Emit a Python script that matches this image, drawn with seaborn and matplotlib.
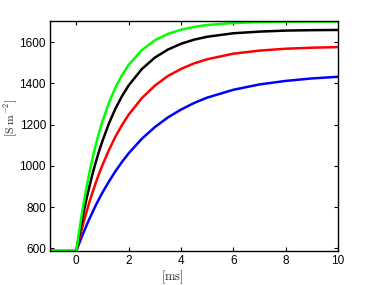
import matplotlib
matplotlib.use("Agg")
import matplotlib.pyplot as plt
import seaborn as sns
import pandas as pd

# time axis [ms] and conductance traces [S m^-2]
t = [-1, 0, 0.1, 0.2, 0.3, 0.4, 0.5, 0.6, 0.7, 0.8, 0.9, 1.0, 1.25, 1.5, 1.75, 2,
     2.5, 3, 3.5, 4, 4.5, 5, 6, 7, 8, 9, 10]
blue = [587, 587, 621, 653, 684, 714, 743, 770, 797, 823, 847, 871, 925, 975, 1020, 1061,
        1131, 1188, 1235, 1273, 1305, 1331, 1369, 1395, 1412, 1424, 1432]
red = [587, 587, 640, 689, 737, 781, 824, 864, 902, 938, 972, 1004, 1078, 1143, 1199, 1248,
       1328, 1389, 1436, 1470, 1497, 1517, 1544, 1559, 1568, 1573, 1576]
black = [587, 587, 659, 725, 788, 846, 900, 951, 998, 1042, 1083, 1121, 1207, 1279, 1339, 1390,
         1469, 1525, 1564, 1592, 1612, 1626, 1643, 1651, 1656, 1658, 1659]
green = [587, 587, 676, 758, 833, 902, 967, 1025, 1079, 1129, 1174, 1216, 1307, 1381, 1441, 1490,
         1561, 1609, 1640, 1660, 1674, 1683, 1693, 1697, 1699, 1700, 1700]

series = {"blue": blue, "red": red, "black": black, "green": green}
colors = {"blue": "#0000ff", "red": "#ff0000", "black": "#000000", "green": "#00ff00"}

df = pd.concat([pd.DataFrame({"t": t, "g": v, "trace": k}) for k, v in series.items()])

sns.set_style("ticks")
plt.rcParams["font.family"] = ["Liberation Sans", "DejaVu Sans"]
plt.rcParams["mathtext.fontset"] = "cm"

fig = plt.figure(figsize=(3.74, 2.85), dpi=100)
ax = fig.add_axes([0.134, 0.119, 0.770, 0.807])

sns.lineplot(data=df, x="t", y="g", hue="trace", palette=colors, linewidth=1.8,
             legend=False, ax=ax, sort=False)

ax.set_xlim(-1, 10)
ax.set_ylim(587, 1702)
ax.set_xticks([0, 2, 4, 6, 8, 10])
ax.set_yticks([600, 800, 1000, 1200, 1400, 1600])
ax.tick_params(direction="in", top=True, right=True, length=3, width=0.8,
               labelsize=8.5, colors="black", pad=3)
for s in ax.spines.values():
    s.set_linewidth(1.0)
    s.set_color("black")

ax.set_xlabel(r"$[\mathrm{ms}]$", fontsize=9)
ax.set_ylabel(r"$[\mathrm{S\;m^{-2}}]$", fontsize=8.5)
ax.xaxis.set_label_coords(0.424, -0.075)
ax.yaxis.set_label_coords(-0.105, 0.58)

fig.savefig("out.png", dpi=100)
